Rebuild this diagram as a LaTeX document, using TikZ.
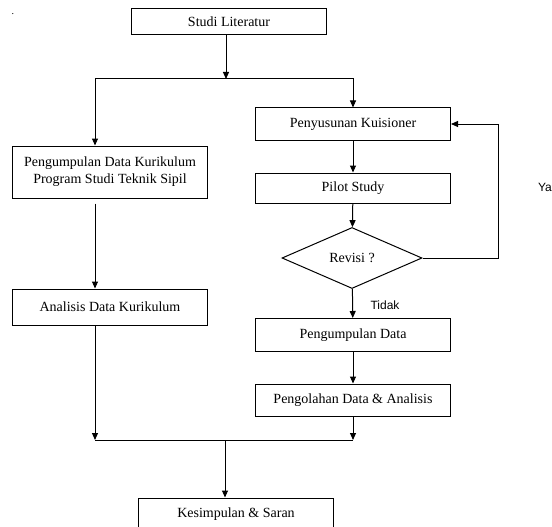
\documentclass[tikz,border=0pt]{standalone}
\usepackage{fontspec}
\setmainfont{Liberation Serif}
\newfontfamily\labelfont{Liberation Sans}
\usetikzlibrary{arrows.meta,shapes.geometric}

\begin{document}
\begin{tikzpicture}[x=1pt,y=-1pt,
  kotak/.style={draw,line width=1pt,minimum width=195pt,minimum height=32pt,inner sep=2pt,
    font=\fontsize{14}{17}\selectfont,align=center},
  belah/.style={draw,diamond,line width=1pt,minimum width=140pt,minimum height=61pt,
    inner sep=0pt,font=\fontsize{14}{17}\selectfont},
  panah/.style={-{Triangle[length=7pt,width=6pt]},line width=1pt},
  garis/.style={line width=1pt},
  ket/.style={font=\labelfont\fontsize{12}{14}\selectfont}]
\useasboundingbox (0,0) rectangle (552,527);
\node (titik) at (13,14) {.};
% kotak-kotak
\node[kotak,minimum height=26pt] (lit) at (229,22) {Studi Literatur};
\node[kotak,minimum height=52pt] (kur) at (110,172) {Pengumpulan Data Kurikulum\\Program Studi Teknik Sipil};
\node[kotak,minimum height=36pt] (ana) at (110,307) {Analisis Data Kurikulum};
\node[kotak] (kues) at (353,124) {Penyusunan Kuisioner};
\node[kotak,minimum height=30pt] (pilot) at (353,188) {Pilot Study};
\node[belah] (rev) at (352,258) {Revisi ?};
\node[kotak,minimum height=33pt] (kumpul) at (353,335) {Pengumpulan Data};
\node[kotak] (olah) at (353,400) {Pengolahan Data \& Analisis};
\node[kotak] (simpul) at (236,514) {Kesimpulan \& Saran};
\node[ket] (ya) at (545,187) {Ya};
\node[ket] (tidak) at (385,305) {Tidak};
% titik cabang
\coordinate (split) at (226,79);
\coordinate (gabung) at (225,440);
\coordinate (balik) at (498,258);
% panah
\draw[panah] (lit.south -| split) -- (split);
\draw[panah] (split) -| ([xshift=-15pt]kur.north);
\draw[panah] (split) -| (kues.north);
\draw[panah] ([xshift=-15pt,yshift=-5pt]kur.south) -- ([xshift=-15pt]ana.north);
\draw[panah] ([xshift=-15pt]ana.south) -- ([xshift=-15pt]ana.south |- gabung);
\draw[panah] (kues) -- (pilot);
\draw[panah] (pilot) -- (rev);
\draw[panah] (rev) -- (kumpul);
\draw[panah] (rev.east) -- (balik) |- (kues.east);
\draw[panah] (kumpul) -- (olah);
\draw[panah] (olah) -- (olah.south |- gabung);
\draw[garis] ([xshift=-15pt]ana.south |- gabung) -- (olah.south |- gabung);
\draw[panah] (gabung) -- (gabung |- simpul.north);
\end{tikzpicture}
\end{document}
